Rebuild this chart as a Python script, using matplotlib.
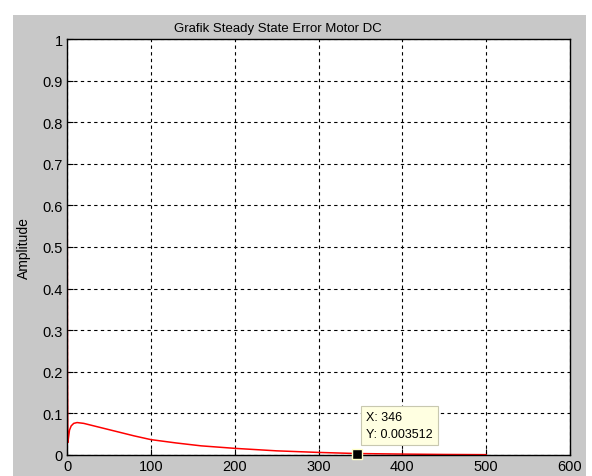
import matplotlib.pyplot as plt
from matplotlib.patches import Rectangle

# Values
t = [0, 0.3, 0.6, 1, 2, 3, 5, 8, 12, 20, 30, 40, 60, 80, 100, 130, 160, 200, 250, 300, 346, 400, 450, 500]
err = [1.0, 0.6, 0.2, 0.03, 0.045, 0.06, 0.07, 0.076, 0.078, 0.076, 0.071, 0.066, 0.056, 0.046, 0.037,
       0.029, 0.022, 0.016, 0.010, 0.0062, 0.003512, 0.0022, 0.0013, 0.0008]
tip_x = 346
tip_y = 0.003512

plt.rcParams['font.family'] = ['Liberation Sans', 'DejaVu Sans']

fig = plt.figure(figsize=(5.92, 4.77), dpi=100)
fig.patch.set_facecolor('white')
fig.patches.append(Rectangle((13/592, 0), 573/592, 461/477, transform=fig.transFigure,
                             facecolor='#c8c8c8', edgecolor='none', zorder=-1))

ax = fig.add_axes([67/592, 21/477, 503/592, 416/477])
ax.set_facecolor('white')
ax.plot(t, err, color='red', lw=1.1)

ax.set_xlim(0, 600)
ax.set_ylim(0, 1)
ax.set_xticks(range(0, 601, 100))
ax.set_yticks([i/10 for i in range(11)])
ax.set_yticklabels(['0', '0.1', '0.2', '0.3', '0.4', '0.5', '0.6', '0.7', '0.8', '0.9', '1'])
ax.tick_params(direction='in', length=4, labelsize=10.5, colors='black', pad=3)
ax.grid(True, color='black', linestyle=(0, (3, 3)), lw=0.8)
for s in ax.spines.values():
    s.set_color('black')
    s.set_linewidth(1)

ax.text(0.42, 1.012, 'Grafik Steady State Error Motor DC', transform=ax.transAxes,
        fontsize=9.5, ha='center', va='bottom')
ax.set_ylabel('Amplitude', fontsize=10, labelpad=8)

# data tip
ax.plot([tip_x], [tip_y], marker='s', color='black', ms=7, mec='#ffffc8', mew=1, zorder=5, clip_on=False)
ax.text(357, 0.035, 'X: %d\nY: %.6f' % (tip_x, tip_y), fontsize=9, va='bottom', ha='left',
        linespacing=1.6,
        bbox=dict(boxstyle='square,pad=0.4', facecolor='#ffffe1', edgecolor='#c8c8b0', lw=0.8), zorder=6)

fig.savefig('out.png', dpi=100)
